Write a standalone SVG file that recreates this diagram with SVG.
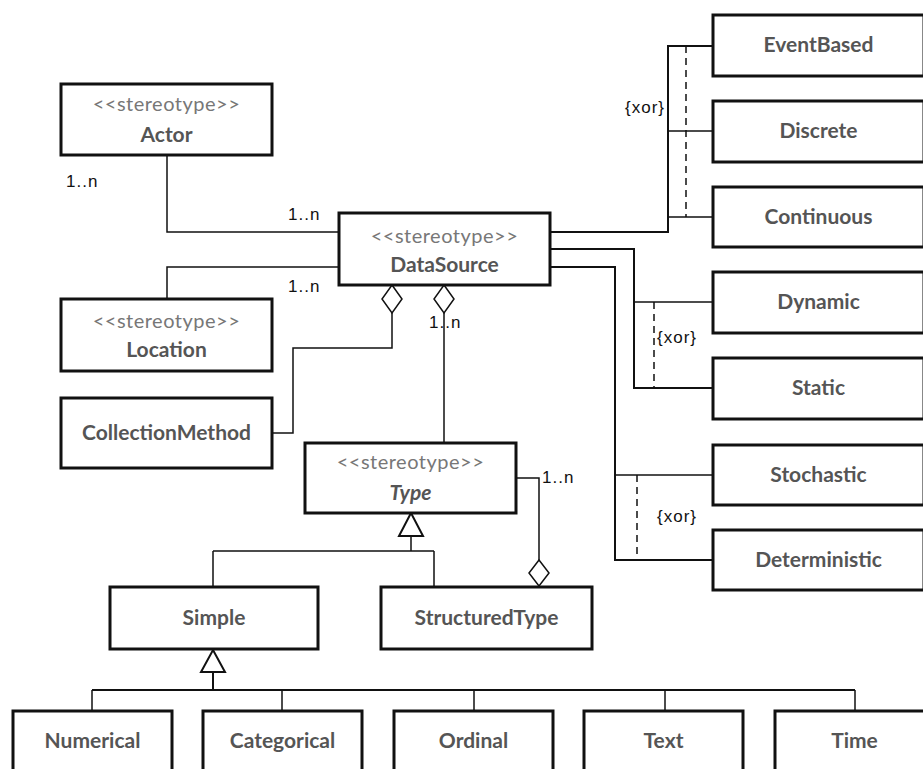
<svg xmlns="http://www.w3.org/2000/svg" width="923" height="769" viewBox="0 0 923 769">
  <style>
    .box { fill: #ffffff; stroke: #111111; stroke-width: 3; }
    .name { font-family: Lato, "Open Sans", sans-serif; font-weight: 700; font-size: 21px; fill: #555555; text-anchor: middle; }
    .ital { font-style: italic; }
    .stereo { font-family: Lato, "Open Sans", sans-serif; font-weight: 400; font-size: 20px; fill: #777777; text-anchor: middle; letter-spacing: 0.5px; }
    .lbl { font-family: "Liberation Sans", Arial, sans-serif; font-size: 17px; fill: #111111; letter-spacing: 1px; }
    .line { fill: none; stroke: #111111; stroke-width: 1.5; }
    .trunk { fill: none; stroke: #111111; stroke-width: 2; }
    .dash { fill: none; stroke: #111111; stroke-width: 1.5; stroke-dasharray: 7 5; }
    .hollow { fill: #ffffff; stroke: #111111; stroke-width: 1.5; }
    .tri { fill: #ffffff; stroke: #111111; stroke-width: 2; }
  </style>

  <!-- connectors -->
  <g id="connectors">
    <!-- associations -->
    <path class="line" d="M167,155 V232 H339"/>
    <path class="line" d="M339,267 H167 V299"/>
    <!-- aggregation: CollectionMethod -->
    <path class="line" d="M272,433 H293 V348 H392 V313"/>
    <polygon class="hollow" points="392,285 402,299 392,313 382,299"/>
    <!-- aggregation: Type -->
    <path class="line" d="M444,313 V443"/>
    <polygon class="hollow" points="444,285 454,299 444,313 434,299"/>
    <!-- aggregation: StructuredType -> Type -->
    <path class="line" d="M516,478 H539 V560"/>
    <polygon class="hollow" points="539,560 549,573 539,586 529,573"/>
    <!-- generalization: Type -->
    <path class="line" d="M411,536 V551 M213,551 H434 M213,551 V587 M434,551 V587"/>
    <polygon class="tri" points="411,513 423,536 399,536"/>
    <!-- generalization: Simple -->
    <path class="trunk" d="M213,672 V690 M92,690 H855"/>
    <path class="line" d="M92,690 V711 M282,690 V711 M474,690 V711 M665,690 V711 M855,690 V711"/>
    <polygon class="tri" points="213,650 225,672 201,672"/>
    <!-- xor group: time model -->
    <path class="trunk" d="M550,232 H668 V46 H713"/>
    <path class="line" d="M668,131 H713 M668,217 H713"/>
    <path class="dash" d="M686,46 V217"/>
    <!-- xor group: dynamics -->
    <path class="trunk" d="M550,249 H634 V388 H713"/>
    <path class="line" d="M634,302 H713"/>
    <path class="dash" d="M654,302 V388"/>
    <!-- xor group: randomness -->
    <path class="trunk" d="M550,267 H615 V560 H713"/>
    <path class="line" d="M615,475 H713"/>
    <path class="dash" d="M637,475 V560"/>
    <!-- multiplicities and constraints -->
    <text class="lbl" x="66" y="187">1..n</text>
    <text class="lbl" x="288" y="220">1..n</text>
    <text class="lbl" x="288" y="292">1..n</text>
    <text class="lbl" x="429" y="328">1..n</text>
    <text class="lbl" x="542" y="483">1..n</text>
    <text class="lbl" x="625" y="113">{xor}</text>
    <text class="lbl" x="657" y="343">{xor}</text>
    <text class="lbl" x="657" y="522">{xor}</text>
  </g>

  <g id="actor">
    <rect class="box" x="61" y="84" width="211" height="71"/>
    <text class="stereo" x="166.5" y="111">&lt;&lt;stereotype&gt;&gt;</text>
    <text class="name" x="166.5" y="142">Actor</text>
  </g>
  <g id="datasource">
    <rect class="box" x="339" y="213" width="211" height="72"/>
    <text class="stereo" x="444.5" y="243">&lt;&lt;stereotype&gt;&gt;</text>
    <text class="name" x="444.5" y="272">DataSource</text>
  </g>
  <g id="location">
    <rect class="box" x="61" y="299" width="211" height="72"/>
    <text class="stereo" x="166.5" y="328">&lt;&lt;stereotype&gt;&gt;</text>
    <text class="name" x="166.5" y="357">Location</text>
  </g>
  <g id="collectionmethod">
    <rect class="box" x="61" y="398" width="211" height="70"/>
    <text class="name" x="166.5" y="440">CollectionMethod</text>
  </g>
  <g id="type">
    <rect class="box" x="305" y="443" width="211" height="70"/>
    <text class="stereo" x="410.5" y="469">&lt;&lt;stereotype&gt;&gt;</text>
    <text class="name ital" x="410.5" y="500">Type</text>
  </g>
  <g id="simple">
    <rect class="box" x="110" y="587" width="208" height="62"/>
    <text class="name" x="214" y="625">Simple</text>
  </g>
  <g id="structuredtype">
    <rect class="box" x="381" y="587" width="211" height="62"/>
    <text class="name" x="486.5" y="625">StructuredType</text>
  </g>

  <g id="eventbased">
    <rect class="box" x="713" y="15" width="211" height="61"/>
    <text class="name" x="818.5" y="52">EventBased</text>
  </g>
  <g id="discrete">
    <rect class="box" x="713" y="101" width="211" height="61"/>
    <text class="name" x="818.5" y="138">Discrete</text>
  </g>
  <g id="continuous">
    <rect class="box" x="713" y="187" width="211" height="60"/>
    <text class="name" x="818.5" y="224">Continuous</text>
  </g>
  <g id="dynamic">
    <rect class="box" x="713" y="272" width="211" height="61"/>
    <text class="name" x="818.5" y="309">Dynamic</text>
  </g>
  <g id="static">
    <rect class="box" x="713" y="358" width="211" height="61"/>
    <text class="name" x="818.5" y="395">Static</text>
  </g>
  <g id="stochastic">
    <rect class="box" x="713" y="445" width="211" height="60"/>
    <text class="name" x="818.5" y="482">Stochastic</text>
  </g>
  <g id="deterministic">
    <rect class="box" x="713" y="530" width="211" height="60"/>
    <text class="name" x="818.5" y="567">Deterministic</text>
  </g>

  <g id="numerical">
    <rect class="box" x="13" y="711" width="159" height="80"/>
    <text class="name" x="92.5" y="748">Numerical</text>
  </g>
  <g id="categorical">
    <rect class="box" x="203" y="711" width="159" height="80"/>
    <text class="name" x="282.5" y="748">Categorical</text>
  </g>
  <g id="ordinal">
    <rect class="box" x="394" y="711" width="159" height="80"/>
    <text class="name" x="473.5" y="748">Ordinal</text>
  </g>
  <g id="text">
    <rect class="box" x="584" y="711" width="159" height="80"/>
    <text class="name" x="663.5" y="748">Text</text>
  </g>
  <g id="time">
    <rect class="box" x="775" y="711" width="159" height="80"/>
    <text class="name" x="854.5" y="748">Time</text>
  </g>
</svg>
